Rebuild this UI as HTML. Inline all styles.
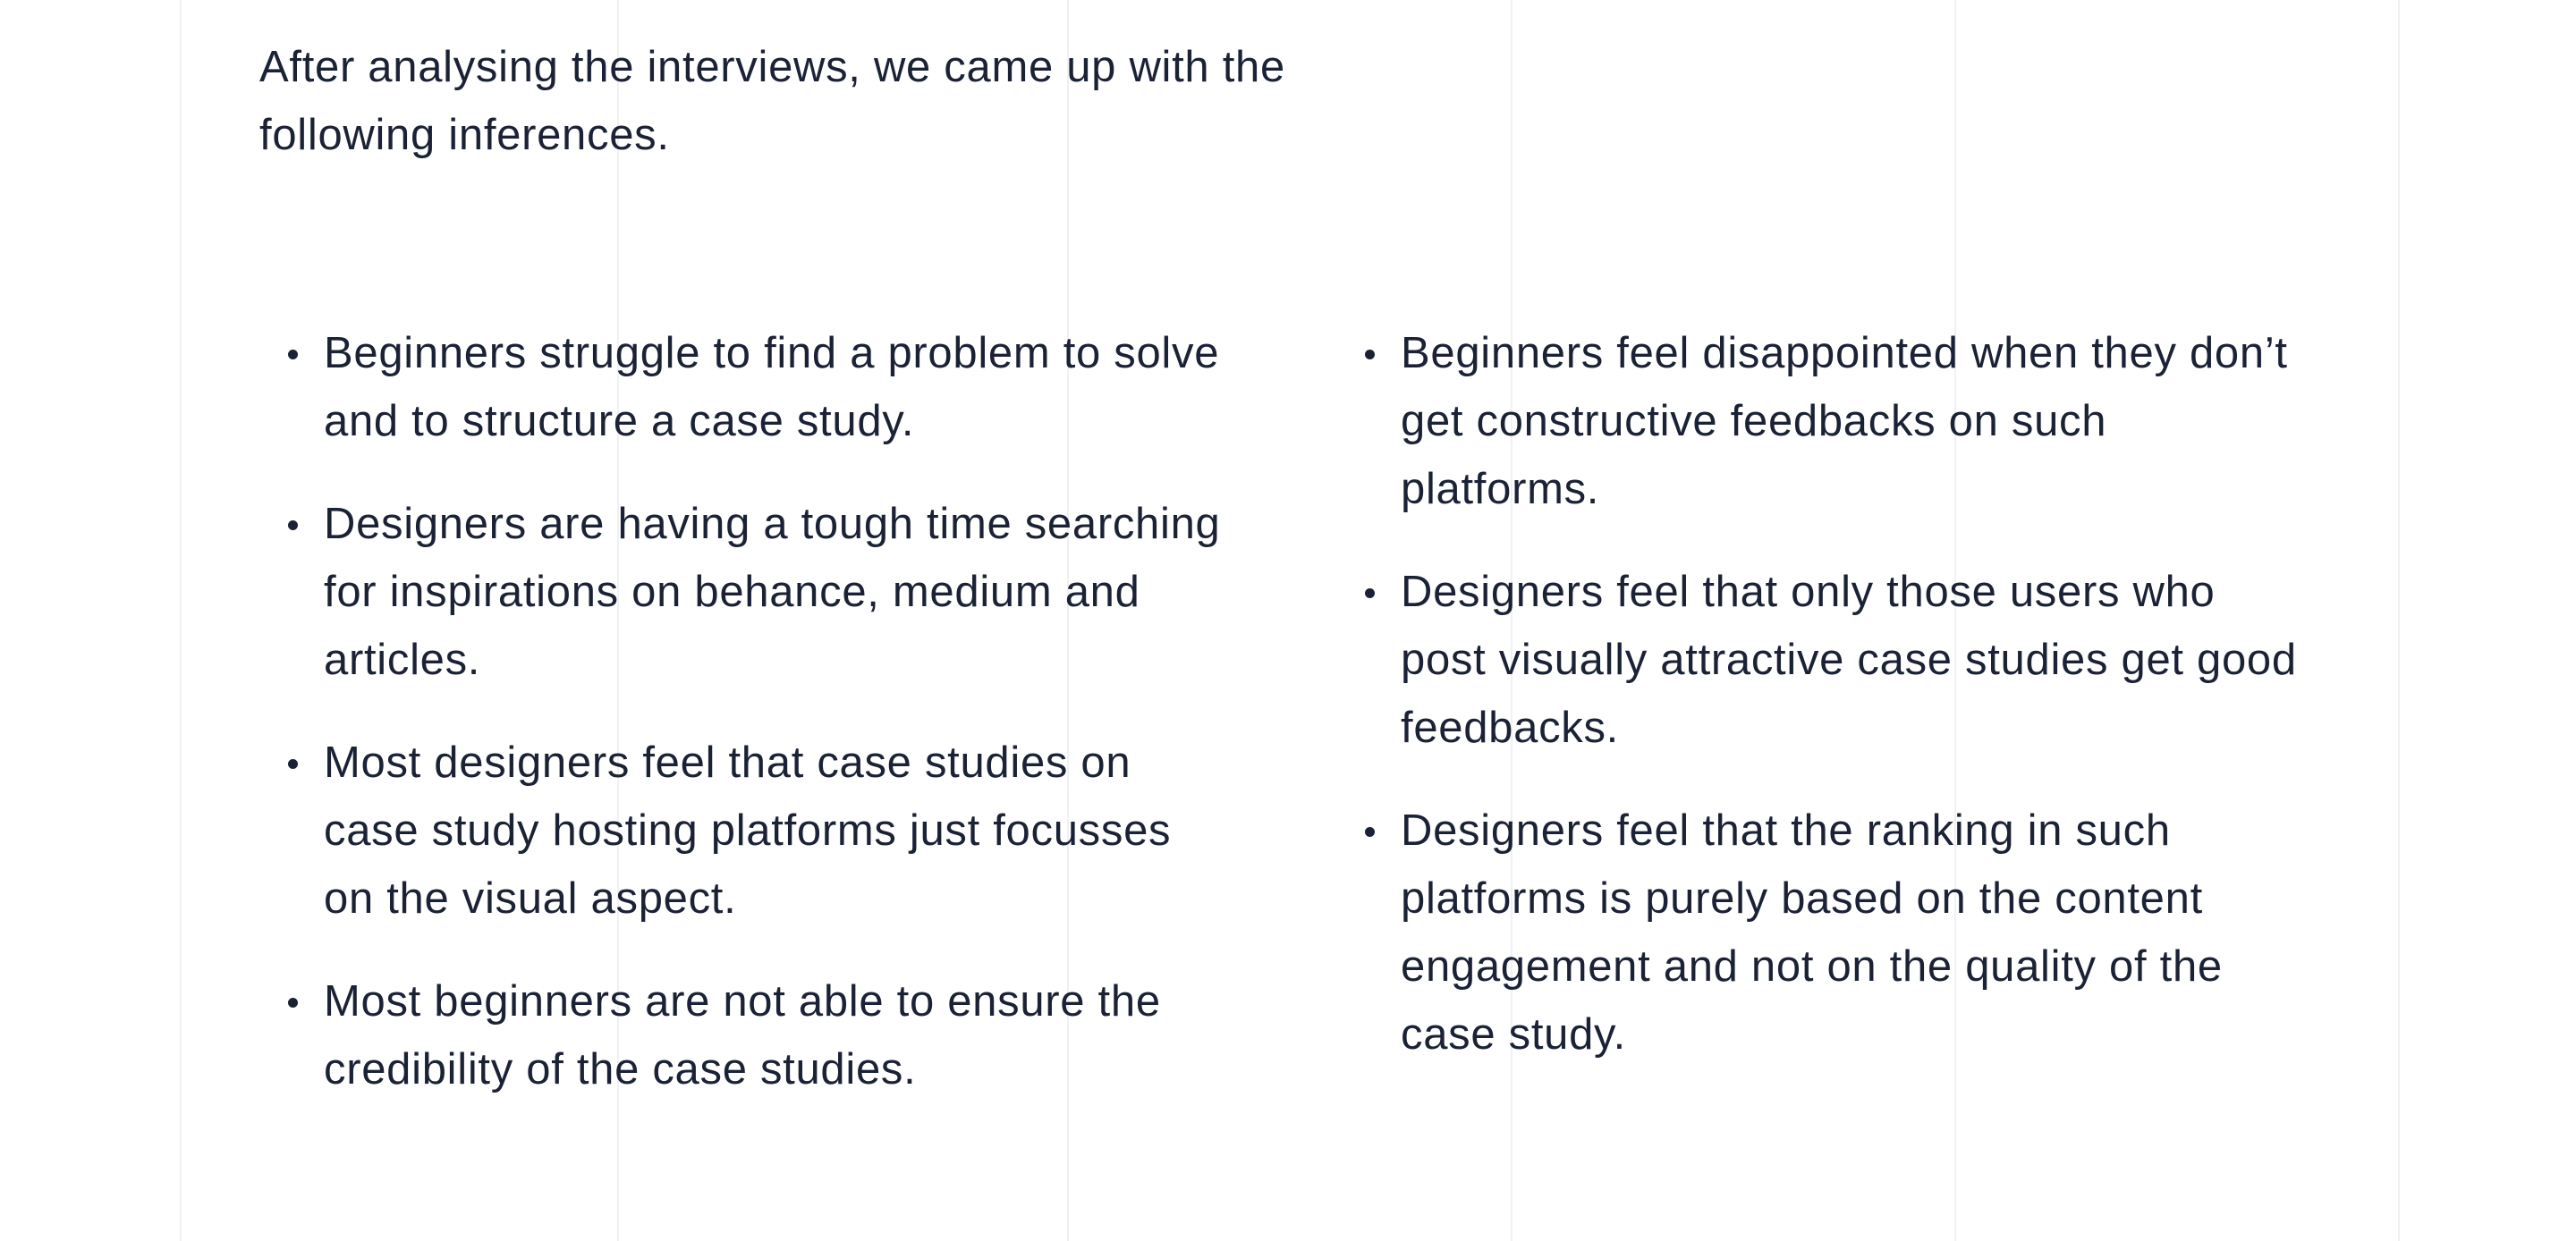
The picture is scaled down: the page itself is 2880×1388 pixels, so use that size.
<!DOCTYPE html>
<html><head><meta charset="utf-8"><style>
html,body{margin:0;padding:0;}
body{width:2880px;height:1388px;background:#fff;position:relative;overflow:hidden;font-family:"Liberation Sans",sans-serif;color:#1b2236;}
.v{position:absolute;top:0;width:2px;height:1388px;background:#f0f1f3;}
.t{position:absolute;font-size:49px;line-height:76px;white-space:nowrap;letter-spacing:0.7px;}
ul{position:absolute;margin:0;padding:0;list-style:none;top:357px;}
li{position:relative;font-size:49px;line-height:76px;white-space:nowrap;margin-bottom:39px;letter-spacing:0.7px;}
li::before{content:"";position:absolute;left:-40px;top:34px;width:11px;height:11px;border-radius:50%;background:#1b2236;}
</style></head><body>
<div class="v" style="left:201px"></div>
<div class="v" style="left:690px"></div>
<div class="v" style="left:1193px"></div>
<div class="v" style="left:1689px"></div>
<div class="v" style="left:2185px"></div>
<div class="v" style="left:2681px"></div>
<div class="t" style="left:290px;top:37px">After analysing the interviews, we came up with the<br>following inferences.</div>
<ul style="left:362px">
<li>Beginners struggle to find a problem to solve<br>and to structure a case study.</li>
<li>Designers are having a tough time searching<br>for inspirations on behance, medium and<br>articles.</li>
<li>Most designers feel that case studies on<br>case study hosting platforms just focusses<br>on the visual aspect.</li>
<li>Most beginners are not able to ensure the<br>credibility of the case studies.</li>
</ul>
<ul style="left:1566px">
<li>Beginners feel disappointed when they don’t<br>get constructive feedbacks on such<br>platforms.</li>
<li>Designers feel that only those users who<br>post visually attractive case studies get good<br>feedbacks.</li>
<li>Designers feel that the ranking in such<br>platforms is purely based on the content<br>engagement and not on the quality of the<br>case study.</li>
</ul>
</body></html>
